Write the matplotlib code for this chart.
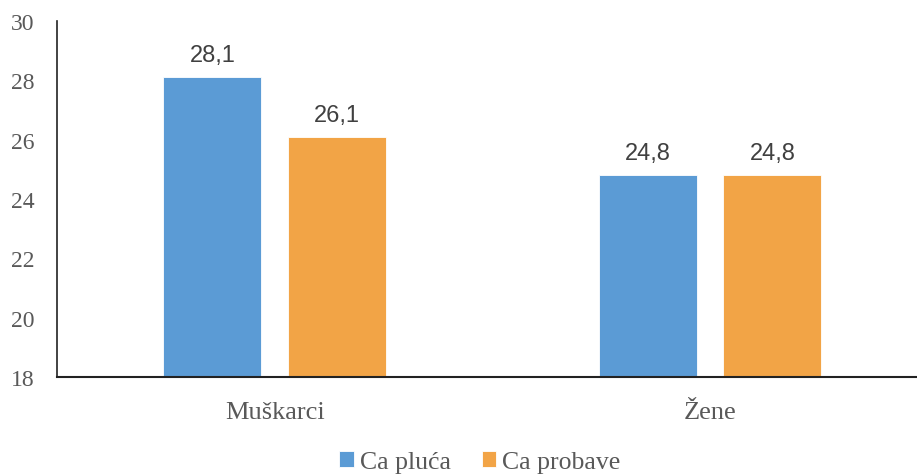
import matplotlib
matplotlib.use("Agg")
import matplotlib.pyplot as plt
import numpy as np

categories = ["Muškarci", "Žene"]
series_names = ["Ca pluća", "Ca probave"]
ca_pluca = [28.1, 24.8]
ca_probave = [26.1, 24.8]
yticks = [18, 20, 22, 24, 26, 28, 30]

colors = ["#5B9BD5", "#F2A446"]
gray = "#595959"

fig = plt.figure(figsize=(9.17, 4.77), dpi=100)
ax = fig.add_axes([57/917, 1-378/477, (927.75-57)/917, (378-22)/477])

x = np.arange(len(categories))
w = 0.225
off = 0.143
serif = ["Liberation Serif", "DejaVu Serif"]
sans = ["Liberation Sans", "DejaVu Sans"]

for vals, o, c, name in [(ca_pluca, -off, colors[0], series_names[0]),
                         (ca_probave, off, colors[1], series_names[1])]:
    bars = ax.bar(x + o, np.array(vals) - 18, bottom=18, width=w, color=c,
                  edgecolor="white", linewidth=0.6, label=name, zorder=2)
    for xi, v in zip(x + o, vals):
        ax.annotate(f"{v:.1f}".replace(".", ","), (xi, v), xytext=(0, 8),
                    textcoords="offset points", ha="center", va="bottom",
                    fontsize=17, color="#404040", family=sans)

ax.set_xlim(-0.5, 1.5)
ax.set_ylim(18, 30)
ax.set_yticks(yticks)
ax.set_yticklabels([str(t) for t in yticks], family=serif, fontsize=17, color=gray)
ax.set_xticks(x)
ax.set_xticklabels(categories, family=serif, fontsize=19, color=gray)
ax.tick_params(axis="y", length=0, pad=16)
ax.tick_params(axis="x", length=0, pad=17)
for s in ["top", "right"]:
    ax.spines[s].set_visible(False)
ax.spines["left"].set_color("#222222")
ax.spines["bottom"].set_color("#222222")
ax.spines["left"].set_linewidth(1.2)
ax.spines["bottom"].set_linewidth(1.5)

leg = fig.legend(loc="center", bbox_to_anchor=(480/917, 1-463/477), ncol=2,
                 frameon=False, prop={"family": serif, "size": 18.5},
                 handlelength=0.55, handleheight=0.55, handletextpad=0.25,
                 columnspacing=1.2)
for t in leg.get_texts():
    t.set_color(gray)

fig.savefig("out.png", dpi=100)
